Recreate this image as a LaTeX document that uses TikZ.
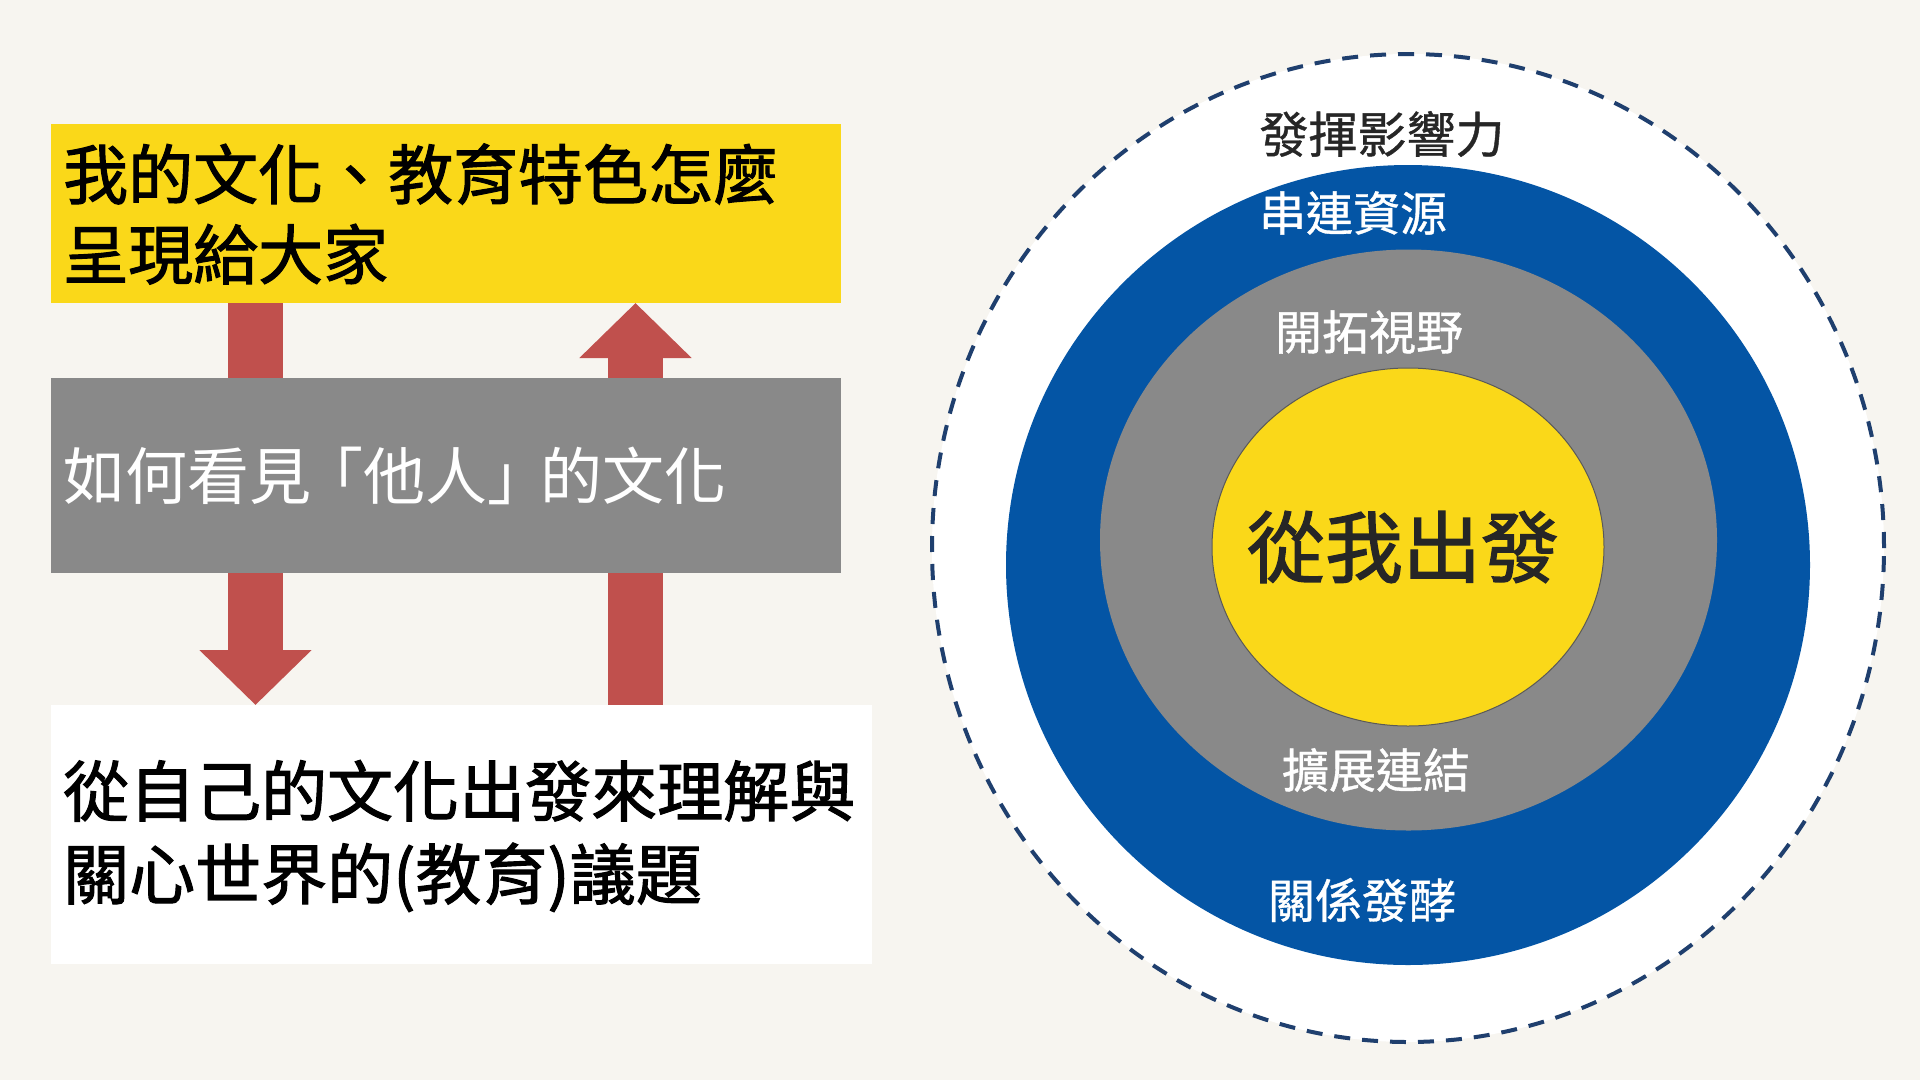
\documentclass[tikz,border=0pt]{standalone}
\usepackage{fontspec}
\setmainfont{Noto Sans CJK TC}
\newfontfamily\cjk{Noto Sans CJK TC}
\newfontfamily\cjkb{Noto Sans CJK TC}[FakeBold=1.6]
\newfontfamily\cjkm{Noto Sans CJK TC}[FakeBold=0.8]
\usetikzlibrary{shapes.geometric,arrows.meta}
\definecolor{bgc}{HTML}{F7F5F0}
\definecolor{ylw}{HTML}{FAD819}
\definecolor{gry}{HTML}{898989}
\definecolor{redc}{HTML}{C0504D}
\definecolor{blu}{HTML}{0455A5}
\definecolor{dsh}{HTML}{1F3F6E}
\pgfdeclarelayer{back}
\pgfdeclarelayer{bottom}
\pgfsetlayers{bottom,back,main}
\tikzset{
  leftbox/.style={rectangle, inner sep=0pt, outer sep=0pt, anchor=north west},
  lefttext/.style={anchor=west, inner sep=0pt, align=left},
  bigarrow/.style={draw=redc, line width=55pt, line cap=butt, -{Triangle[width=109pt,length=55pt]}},
  ring/.style={ellipse, inner sep=0pt, outer sep=0pt},
  ringtext/.style={inner sep=0pt, font=\cjkm\fontsize{47}{50}\selectfont}
}
\begin{document}
\begin{tikzpicture}[x=1pt,y=-1pt]
\begin{pgfonlayer}{bottom}
\fill[bgc] (0,0) rectangle (1920,1080);
\end{pgfonlayer}
\useasboundingbox (0,0) rectangle (1920,1080);
% left boxes
\node[leftbox, fill=ylw, minimum width=790pt, minimum height=179pt] (yb) at (51,124) {};
\node[leftbox, fill=gry, minimum width=790pt, minimum height=195pt] (gb) at (51,378) {};
\node[leftbox, fill=white, minimum width=821pt, minimum height=259pt] (wb) at (51,705) {};
\node[lefttext, text=black, font=\cjkb\fontsize{65}{80}\selectfont] (yt) at (63,214) {我的文化、教育特色怎麼\\呈現給大家};
\node[lefttext, text=white, font=\cjk\fontsize{62}{80}\selectfont] (gt) at (63,476) {如何看見\kern-0.15em「他人」\kern-0.15em的文化};
\node[lefttext, text=black, font=\cjkb\fontsize{66}{83}\selectfont] (wt) at (63,836) {從自己的文化出發來理解與\\關心世界的(教育)議題};
% arrows
\coordinate (la) at (255.5,0);
\coordinate (ra) at (635.5,0);
\begin{pgfonlayer}{back}
\draw[bigarrow] (la |- yb.south) -- (la |- wb.north);
\draw[bigarrow] (ra |- wb.north) -- (ra |- yb.south);
\end{pgfonlayer}
% rings
\node[ring, fill=white, draw=dsh, line width=4pt, dash pattern=on 16pt off 12pt, minimum width=952pt, minimum height=988pt] (r0) at (1408,548) {};
\node[ring, fill=blu, minimum width=804pt, minimum height=800pt] (r1) at (1408,565) {};
\node[ring, fill=gry, minimum width=617pt, minimum height=581pt] (r2) at (1408.5,540) {};
\node[ring, fill=ylw, draw=black!65, line width=1pt, minimum width=392pt, minimum height=358pt] (r3) at (1408,547) {};
\node[ringtext, text=black!85, font=\cjkm\fontsize{49}{50}\selectfont] (t0) at (1382,134) {發揮影響力};
\node[ringtext, text=white] (t1) at (1353,213) {串連資源};
\node[ringtext, text=white] (t2) at (1369,332) {開拓視野};
\node[inner sep=0pt, text=black!85, font=\cjkb\fontsize{78}{80}\selectfont] (t3) at (1403,547) {從我出發};
\node[ringtext, text=white] (t4) at (1376,770) {擴展連結};
\node[ringtext, text=white] (t5) at (1362,900) {關係發酵};
\end{tikzpicture}
\end{document}
